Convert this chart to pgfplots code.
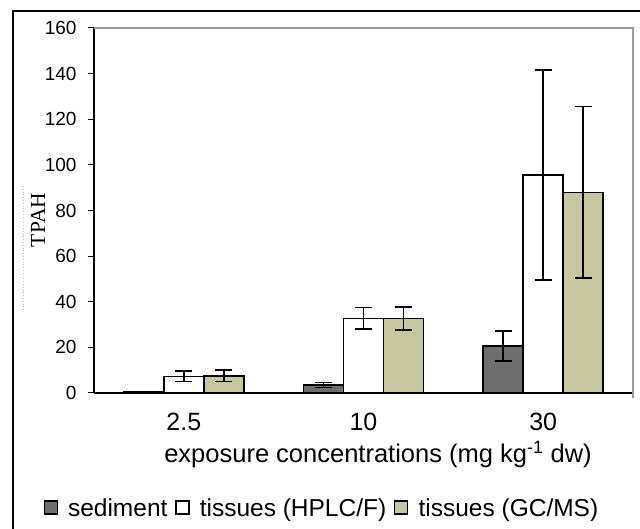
\documentclass[border=0pt]{standalone}
\usepackage{pgfplots}
\pgfplotsset{compat=1.18}
\usepackage{fontspec}
\setmainfont{Liberation Sans}
\newfontfamily\seriffont{Liberation Serif}
\definecolor{sedgray}{HTML}{6E6E6E}
\definecolor{khaki}{HTML}{C6C69F}
\definecolor{framegray}{HTML}{9A9A9A}

\pgfplotsset{
  sqleg/.style={legend image code/.code={
    \draw[##1,line width=1.2pt] (0pt,-6pt) rectangle (13pt,7pt);
    \path (21pt,0pt);}},
}

\begin{document}
\begin{tikzpicture}[x=1pt,y=1pt]
\path[use as bounding box] (0,0) rectangle (640,529);
% outer frame (left and top only visible)
\draw[line width=1.2pt] (13,0) -- (13,518) -- (640,518);
\draw[gray!50, dotted, line width=0.8pt] (23,219) -- (23,344);
\begin{axis}[
    at={(94pt,136pt)}, anchor=south west,
    scale only axis,
    width=539pt, height=365pt,
    ybar=0pt, bar width=40pt,
    xmin=0, xmax=3,
    ymin=0, ymax=160,
    ytick={0,20,...,160},
    xtick={0.5,1.5,2.5},
    xticklabels={2.5,10,30},
    major x tick style={draw=none},
    extra x ticks={0,1,2,3},
    extra x tick labels={},
    extra x tick style={major tick length=6pt, tick style={line width=1pt, black}},
    axis x line*=bottom, axis y line*=left,
    axis line style={line width=1.3pt, -},
    tick align=outside,
    major tick length=6pt,
    y tick style={line width=1pt, black},
    /pgf/number format/assume math mode=true,
    yticklabel style={font=\fontsize{19}{22}\selectfont, xshift=-8pt},
    xticklabel style={font=\fontsize{25}{30}\selectfont, yshift=-11pt},
    legend style={at={(axis description cs:0.423,-0.315)}, anchor=center,
      draw=none, fill=none, legend columns=-1,
      font=\fontsize{24.5}{29}\selectfont,
      /tikz/every even column/.append style={column sep=6pt}},
    error bars/y dir=both, error bars/y explicit,
    error bars/error mark options={rotate=90, mark size=8.5pt, line width=1.5pt},
    error bars/error bar style={line width=1.5pt},
    clip=false,
]
\addplot[draw=black, line width=1.4pt, fill=sedgray, sqleg]
  coordinates {(0.5,0.5) +- (0,0.2) (1.5,3.5) +- (0,1.0) (2.5,20.6) +- (0,6.6)};
\addplot[draw=black, line width=1.4pt, fill=white, sqleg]
  coordinates {(0.5,7.3) +- (0,2.3) (1.5,32.7) +- (0,4.7) (2.5,95.5) +- (0,46)};
\addplot[draw=black, line width=1.4pt, fill=khaki, sqleg]
  coordinates {(0.5,7.5) +- (0,2.5) (1.5,32.7) +- (0,5.0) (2.5,88) +- (0,37.5)};
\legend{sediment, tissues (HPLC/F), tissues (GC/MS)}
\draw[framegray, line width=2pt] (rel axis cs:0,1) -- (rel axis cs:1,1) -- (rel axis cs:1,-0.015);
\end{axis}
\node[rotate=90, font=\seriffont\fontsize{21.5}{25}\selectfont] at (38,309) {TPAH};
\node[anchor=base, font=\fontsize{25.5}{30}\selectfont] at (378,66) {exposure concentrations (mg kg\textsuperscript{-1} dw)};
\end{tikzpicture}
\end{document}
